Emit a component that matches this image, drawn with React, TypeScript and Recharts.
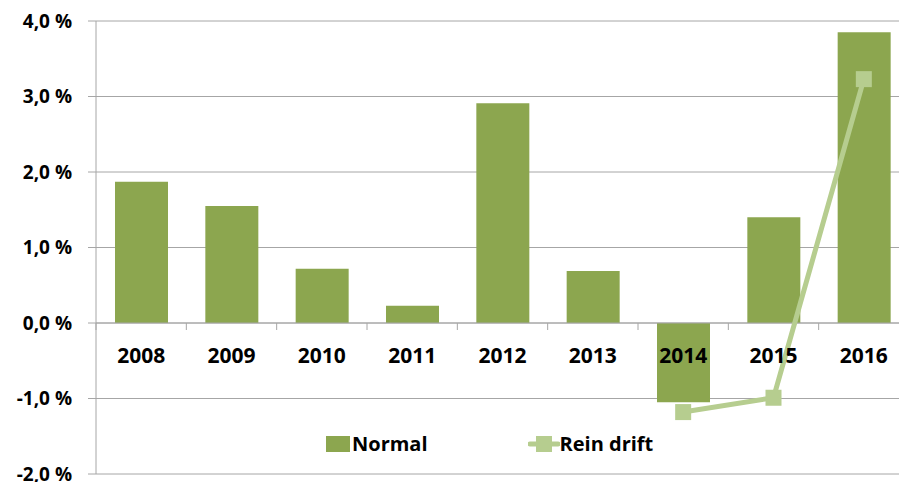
import * as React from 'react';
import {
  Bar,
  CartesianGrid,
  ComposedChart,
  Legend,
  Line,
  ReferenceLine,
  XAxis,
  YAxis,
} from 'recharts';

const YEARS = ['2008', '2009', '2010', '2011', '2012', '2013', '2014', '2015', '2016'];
const NORMAL = [1.87, 1.55, 0.72, 0.23, 2.91, 0.69, -1.05, 1.4, 3.85];
const REIN_DRIFT = [null, null, null, null, null, null, -1.18, -0.99, 3.23];
const Y_TICKS = [-2, -1, 0, 1, 2, 3, 4];

const VIEW_W = 899;
const W = 909;
const H = 482;
const TOP = 21;
const BOTTOM = 8;
const LEFT = 96;
const BAR_COLOR = '#8CA64F';
const LINE_COLOR = '#B6CD8F';
const GRID = '#A6A6A6';
const FONT = '"Open Sans", "Noto Sans", sans-serif';

const ZERO_Y = TOP + ((4 - 0) / 6) * (H - TOP - BOTTOM);
const BAND = (W - LEFT) / YEARS.length;

const fmt = (v: number) => `${v.toFixed(1).replace('.', ',')} %`;

function YearTick(props: any) {
  const { x, payload, index } = props;
  const left = x - BAND / 2;
  return (
    <g>
      <line x1={left} x2={left} y1={ZERO_Y} y2={ZERO_Y + 7} stroke={GRID} />
      {index === YEARS.length - 1 && (
        <line x1={x + BAND / 2} x2={x + BAND / 2} y1={ZERO_Y} y2={ZERO_Y + 7} stroke={GRID} />
      )}
      <text
        x={x}
        y={ZERO_Y + 40}
        textAnchor="middle"
        fontFamily={FONT}
        fontWeight={700}
        fontSize={21}
        fill="#000"
      >
        {payload.value}
      </text>
    </g>
  );
}

function SquareDot(props: any) {
  const { cx, cy, index } = props;
  if (cx == null || cy == null || props.value == null) return <g key={index} />;
  return <rect key={index} x={cx - 8} y={cy - 8} width={16} height={16} fill={LINE_COLOR} />;
}

function LegendBox() {
  return (
    <div
      style={{
        display: 'flex',
        alignItems: 'center',
        fontFamily: FONT,
        fontWeight: 700,
        fontSize: 20,
        color: '#000',
      }}
    >
      <span style={{ display: 'inline-block', width: 24, height: 16, background: BAR_COLOR, marginRight: 2 }} />
      <span>Normal</span>
      <svg width={32} height={20} style={{ marginLeft: 100 }}>
        <line x1={2} x2={30} y1={10} y2={10} stroke={LINE_COLOR} strokeWidth={5} strokeLinecap="round" />
        <rect x={8} y={2} width={16} height={16} fill={LINE_COLOR} />
      </svg>
      <span>Rein drift</span>
    </div>
  );
}

export default function App() {
  const data = YEARS.map((year, i) => ({ year, normal: NORMAL[i], rein: REIN_DRIFT[i] }));

  return (
    <div
      style={{
        position: 'absolute',
        left: 0,
        top: 0,
        width: VIEW_W,
        height: H,
        overflow: 'hidden',
        background: '#fff',
      }}
    >
      <ComposedChart width={W} height={H} data={data} margin={{ top: TOP, right: 0, bottom: BOTTOM - 1, left: 0 }}>
        <CartesianGrid vertical={false} stroke={GRID} />
        <XAxis dataKey="year" height={1} axisLine={false} tickLine={false} tick={<YearTick />} interval={0} />
        <YAxis
          width={LEFT}
          domain={[-2, 4]}
          ticks={Y_TICKS}
          interval={0}
          tickFormatter={fmt}
          axisLine={{ stroke: GRID }}
          tickLine={{ stroke: GRID }}
          tickSize={8}
          tickMargin={16}
          tick={{ fontFamily: FONT, fontWeight: 700, fontSize: 19, fill: '#000' }}
        />
        <ReferenceLine y={0} stroke={GRID} />
        <Legend
          layout="horizontal"
          verticalAlign="middle"
          align="center"
          content={<LegendBox />}
          wrapperStyle={{ top: 430, left: 326, width: 380 }}
        />
        <Bar dataKey="normal" name="Normal" fill={BAR_COLOR} barSize={53} isAnimationActive={false} />
        <Line
          dataKey="rein"
          name="Rein drift"
          stroke={LINE_COLOR}
          strokeWidth={5}
          dot={SquareDot}
          activeDot={false}
          isAnimationActive={false}
        />
      </ComposedChart>
    </div>
  );
}
